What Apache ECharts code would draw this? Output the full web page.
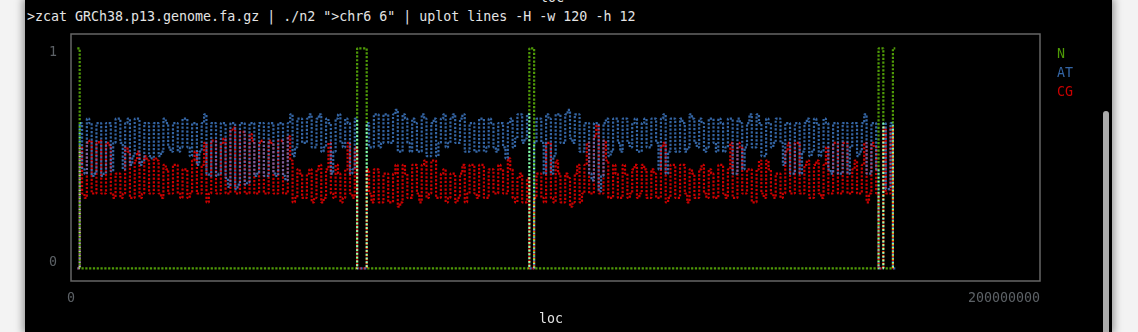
<!DOCTYPE html>
<html><head><meta charset="utf-8">
<script src="https://cdn.jsdelivr.net/npm/echarts@6/dist/echarts.min.js"></script>
<style>
html,body{margin:0;padding:0;width:1138px;height:332px;overflow:hidden;background:#f3f3f3;}
#term{position:absolute;left:25px;top:0;width:1087px;height:332px;background:#000;box-shadow:0 0 8px 2px rgba(0,0,0,0.4);}
#chart{position:absolute;left:0;top:0;width:1138px;height:332px;}
.txt{position:absolute;font-family:'DejaVu Sans Mono',monospace;font-size:13.3px;line-height:19px;white-space:pre;color:#e4e4e4;}
#scroll{position:absolute;left:1103px;top:111px;width:6px;height:240px;background:#ababab;border-radius:3px;}
</style></head><body>
<div id="term"></div>
<div class="txt" style="left:540px;top:-12px;">loc</div>
<div class="txt" style="left:27px;top:7px;">&gt;zcat GRCh38.p13.genome.fa.gz | ./n2 "&gt;chr6 6" | uplot lines -H -w 120 -h 12</div>
<div id="chart"></div>
<div id="scroll"></div>
<script>
// window size of the per-window composition (bp)
const WINDOW = 1e6;
// fraction of N per window
const N = [
1,0,0,0,0,0,0,0,0,0, 0,0,0,0,0,0,0,0,0,0, 0,0,0,0,0,0,0,0,0,0, 0,0,0,0,0,0,0,0,0,0,
0,0,0,0,0,0,0,0,0,0, 0,0,0,0,0,0,0,0,0,1, 1,0,0,0,0,0,0,0,0,0, 0,0,0,0,0,0,0,0,0,0,
0,0,0,0,0,0,0,0,0,0, 0,0,0,0,0,1,0,0,0,0, 0,0,0,0,0,0,0,0,0,0, 0,0,0,0,0,0,0,0,0,0,
0,0,0,0,0,0,0,0,0,0, 0,0,0,0,0,0,0,0,0,0, 0,0,0,0,0,0,0,0,0,0, 0,0,0,0,0,0,0,0,0,0,
0,0,0,0,0,0,0,0,1,0, 0,1];
// AT fraction: low / high excursion in each window
const AT_lo = [
0,0.45,0.43,0.42,0.43,0.42,0.43,0.44,0.57,0.57, 0.45,0.47,0.51,0.47,0.49,0.51,0.50,0.51,0.53,0.55,
0.53,0.53,0.55,0.55,0.51,0.47,0.53,0.43,0.42,0.42, 0.43,0.41,0.37,0.36,0.38,0.38,0.39,0.42,0.43,0.42,
0.42,0.43,0.42,0.42,0.40,0.51,0.55,0.57,0.57,0.55, 0.55,0.53,0.55,0.43,0.53,0.57,0.55,0.43,0.45,0,
0,0.55,0.55,0.55,0.57,0.57,0.57,0.53,0.53,0.57, 0.53,0.53,0.53,0.51,0.51,0.51,0.57,0.55,0.57,0.57,
0.57,0.53,0.53,0.53,0.53,0.53,0.55,0.55,0.53,0.55, 0.50,0.55,0.59,0.57,0.59,0,0.57,0.57,0.43,0.43,
0.51,0.57,0.57,0.59,0.57,0.53,0.53,0.43,0.40,0.35, 0.42,0.51,0.53,0.57,0.53,0.57,0.55,0.53,0.53,0.55,
0.55,0.57,0.45,0.43,0.53,0.53,0.53,0.53,0.55,0.57, 0.55,0.53,0.55,0.57,0.53,0.53,0.55,0.43,0.43,0.45,
0.55,0.55,0.55,0.51,0.51,0.55,0.57,0.57,0.47,0.43, 0.43,0.43,0.53,0.51,0.53,0.51,0.53,0.45,0.43,0.43,
0.43,0.43,0.55,0.51,0.53,0.43,0.43,0.45,0,0.36, 0.36,0];
const AT_hi = [
0,0.66,0.68,0.66,0.66,0.66,0.66,0.66,0.68,0.68, 0.66,0.68,0.68,0.68,0.66,0.66,0.66,0.66,0.68,0.66,
0.66,0.66,0.68,0.68,0.66,0.66,0.66,0.70,0.66,0.66, 0.66,0.66,0.66,0.66,0.66,0.66,0.66,0.66,0.66,0.66,
0.66,0.66,0.66,0.66,0.66,0.70,0.68,0.68,0.68,0.70, 0.68,0.70,0.68,0.66,0.68,0.70,0.68,0.66,0.68,0,
0,0.66,0.70,0.70,0.70,0.70,0.70,0.72,0.70,0.68, 0.68,0.66,0.70,0.68,0.66,0.68,0.68,0.70,0.68,0.70,
0.68,0.70,0.66,0.66,0.68,0.68,0.68,0.66,0.66,0.66, 0.66,0.68,0.70,0.70,0.70,0,0.68,0.68,0.70,0.68,
0.70,0.70,0.70,0.72,0.70,0.70,0.66,0.66,0.66,0.66, 0.66,0.68,0.68,0.68,0.68,0.68,0.66,0.68,0.66,0.68,
0.68,0.68,0.68,0.70,0.68,0.68,0.68,0.66,0.70,0.68, 0.68,0.66,0.68,0.68,0.68,0.66,0.68,0.68,0.68,0.66,
0.66,0.70,0.70,0.66,0.68,0.66,0.68,0.68,0.66,0.66, 0.66,0.66,0.66,0.68,0.68,0.66,0.68,0.66,0.66,0.66,
0.66,0.66,0.66,0.66,0.66,0.70,0.66,0.66,0,0.66, 0.66,0];
// CG fraction: low / high excursion in each window
const CG_lo = [
0,0.34,0.32,0.34,0.34,0.34,0.34,0.34,0.32,0.32, 0.34,0.32,0.32,0.32,0.34,0.34,0.34,0.34,0.32,0.34,
0.34,0.34,0.32,0.32,0.34,0.34,0.34,0.30,0.34,0.34, 0.34,0.34,0.34,0.34,0.34,0.34,0.34,0.34,0.34,0.34,
0.34,0.34,0.34,0.34,0.34,0.30,0.32,0.32,0.32,0.30, 0.32,0.30,0.32,0.34,0.32,0.30,0.32,0.34,0.32,0,
0,0.34,0.30,0.30,0.30,0.30,0.30,0.28,0.30,0.32, 0.32,0.34,0.30,0.32,0.34,0.32,0.32,0.30,0.32,0.30,
0.32,0.30,0.34,0.34,0.32,0.32,0.32,0.34,0.34,0.34, 0.34,0.32,0.30,0.30,0.30,0,0.32,0.32,0.30,0.32,
0.30,0.30,0.30,0.28,0.30,0.30,0.34,0.34,0.34,0.34, 0.34,0.32,0.32,0.32,0.32,0.32,0.34,0.32,0.34,0.32,
0.32,0.32,0.32,0.30,0.32,0.32,0.32,0.34,0.30,0.32, 0.32,0.34,0.32,0.32,0.32,0.34,0.32,0.32,0.32,0.34,
0.34,0.30,0.30,0.34,0.32,0.34,0.32,0.32,0.34,0.34, 0.34,0.34,0.34,0.32,0.32,0.34,0.32,0.34,0.34,0.34,
0.34,0.34,0.34,0.34,0.34,0.30,0.34,0.34,0,0.34, 0.34,0];
const CG_hi = [
0,0.55,0.57,0.58,0.57,0.58,0.57,0.56,0.43,0.43, 0.55,0.53,0.49,0.53,0.51,0.49,0.50,0.49,0.47,0.45,
0.47,0.47,0.45,0.45,0.49,0.53,0.47,0.57,0.58,0.58, 0.57,0.59,0.63,0.64,0.62,0.62,0.61,0.58,0.57,0.58,
0.58,0.57,0.58,0.58,0.60,0.49,0.45,0.43,0.43,0.45, 0.45,0.47,0.45,0.57,0.47,0.43,0.45,0.57,0.55,0,
0,0.45,0.45,0.45,0.43,0.43,0.43,0.47,0.47,0.43, 0.47,0.47,0.47,0.49,0.49,0.49,0.43,0.45,0.43,0.43,
0.43,0.47,0.47,0.47,0.47,0.47,0.45,0.45,0.47,0.45, 0.50,0.45,0.41,0.43,0.41,0,0.43,0.43,0.57,0.57,
0.49,0.43,0.43,0.41,0.43,0.47,0.47,0.57,0.60,0.65, 0.58,0.49,0.47,0.43,0.47,0.43,0.45,0.47,0.47,0.45,
0.45,0.43,0.55,0.57,0.47,0.47,0.47,0.47,0.45,0.43, 0.45,0.47,0.45,0.43,0.47,0.47,0.45,0.57,0.57,0.55,
0.45,0.45,0.45,0.49,0.49,0.45,0.43,0.43,0.53,0.57, 0.57,0.57,0.47,0.49,0.47,0.49,0.47,0.55,0.57,0.57,
0.57,0.57,0.45,0.49,0.47,0.57,0.57,0.55,0,0.64, 0.64,0];
const xTickValues = [0, 200000000];
const yTickValues = [0, 1];
const seriesNames = ['N', 'AT', 'CG'];
const colors = {N: '#4e9a06', AT: '#3465a4', CG: '#cc0000'};

const loc = N.map((_, j) => j * WINDOW);
function band(lo, hi) {
  const out = [];
  loc.forEach((x, j) => {
    if (j % 2 === 0) { out.push([x, lo[j]], [x, hi[j]]); }
    else { out.push([x, hi[j]], [x, lo[j]]); }
  });
  return out;
}
const FONT = "'DejaVu Sans Mono', monospace";
const dash = [2.2, 1.6];
const chart = echarts.init(document.getElementById('chart'), null, {renderer: 'canvas'});
chart.setOption({
  backgroundColor: 'transparent',
  animation: false,
  textStyle: {fontFamily: FONT},
  grid: {left: 71, top: 34, width: 969, height: 247, show: true, borderColor: '#666666', borderWidth: 1.5, containLabel: false},
  legend: {
    orient: 'vertical', left: 1047, top: 43, itemWidth: 0, itemHeight: 14, itemGap: 5, icon: 'rect',
    selectedMode: false,
    data: seriesNames.map(n => ({name: n, textStyle: {color: colors[n], fontSize: 13.3, fontFamily: FONT}}))
  },
  xAxis: [
    {type: 'value', min: -1.317e6, max: 201.25e6, show: false},
    {type: 'value', min: 0, max: 200000000, position: 'bottom',
     axisLine: {show: false}, axisTick: {show: false}, splitLine: {show: false},
     axisLabel: {customValues: xTickValues, color: '#5c6166', fontSize: 13.3, fontFamily: FONT, margin: 11,
       alignMinLabel: 'center', alignMaxLabel: 'right', formatter: v => String(v)},
     name: 'loc', nameLocation: 'middle', nameGap: 32,
     nameTextStyle: {color: '#e4e4e4', fontSize: 13.3, fontFamily: FONT, padding: [0, 9, 0, 0]}}
  ],
  yAxis: [
    {type: 'value', min: -0.0577, max: 1.065, show: false},
    {type: 'value', min: -0.0883, max: 1.0907, position: 'left',
     axisLine: {show: false}, axisTick: {show: false}, splitLine: {show: false},
     axisLabel: {customValues: yTickValues, color: '#5c6166', fontSize: 13.3, fontFamily: FONT, margin: 14,
       formatter: v => String(v)}}
  ],
  series: [
    {name: 'CG', type: 'line', step: 'middle', xAxisIndex: 0, yAxisIndex: 0, data: band(CG_lo, CG_hi), showSymbol: false, symbol: 'none',
     color: colors.CG, lineStyle: {color: colors.CG, width: 2.2, type: dash}},
    {name: 'AT', type: 'line', step: 'middle', xAxisIndex: 0, yAxisIndex: 0, data: band(AT_lo, AT_hi), showSymbol: false, symbol: 'none',
     color: colors.AT, lineStyle: {color: 'rgb(74,144,234)', width: 2.2, type: dash, opacity: 0.7}},
    {name: 'N', type: 'line', step: 'middle', xAxisIndex: 0, yAxisIndex: 0, data: loc.map((x, j) => [x, N[j]]), showSymbol: false, symbol: 'none',
     color: colors.N, blendMode: 'lighter', lineStyle: {color: colors.N, width: 2.2, type: dash}}
  ]
});
</script>
</body></html>
